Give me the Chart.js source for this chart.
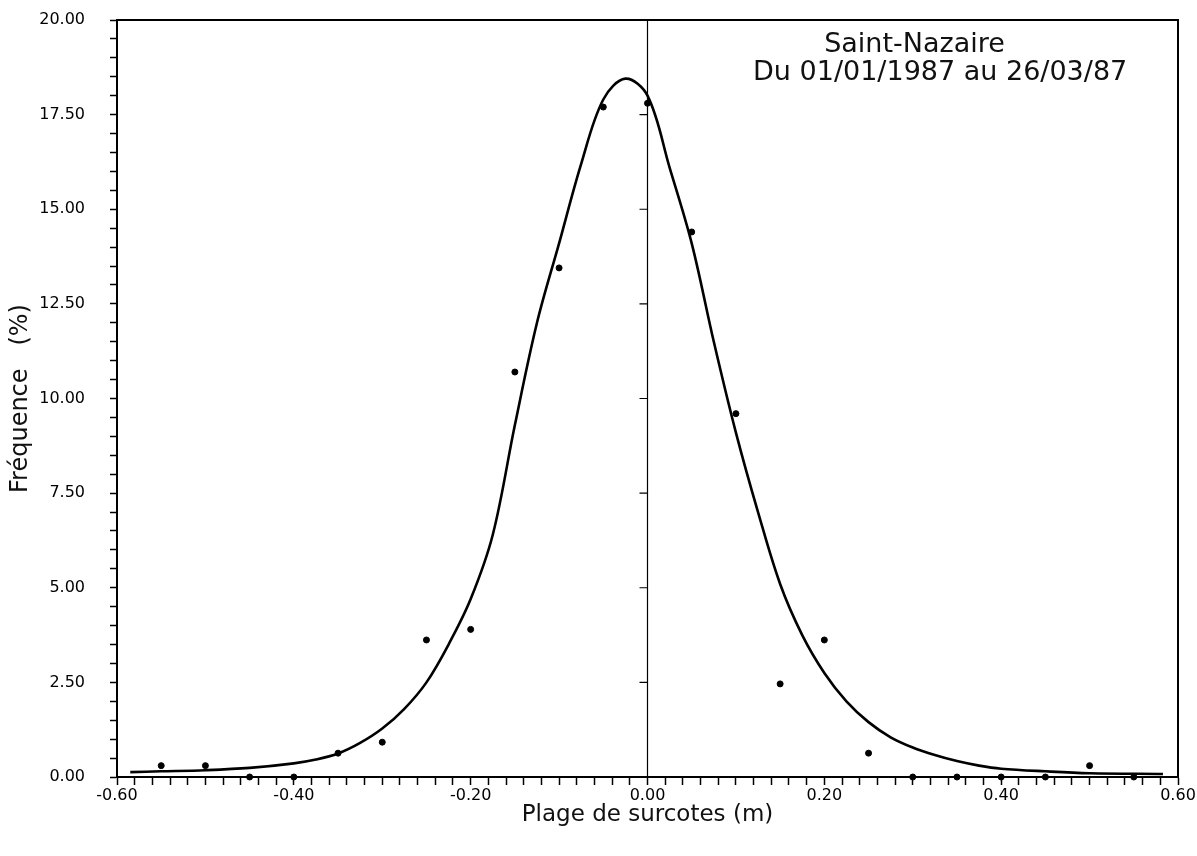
<!DOCTYPE html>
<html>
<head>
<meta charset="utf-8">
<script src="https://cdn.jsdelivr.net/npm/chart.js@4.4.1/dist/chart.umd.min.js"></script>
<style>
  html, body { margin: 0; padding: 0; background: #fff; }
  #wrap { width: 1197px; height: 856px; }
</style>
</head>
<body>
<div id="wrap"><canvas id="chart" width="1197" height="856"></canvas></div>
<script>
// Fitted curve
const curveX = [-0.585, -0.55, -0.50, -0.45, -0.40, -0.375, -0.35, -0.325, -0.30, -0.275, -0.25, -0.225, -0.20, -0.175, -0.15, -0.125, -0.10, -0.075, -0.05, -0.025, 0.0, 0.025, 0.05, 0.075, 0.10, 0.125, 0.15, 0.175, 0.20, 0.225, 0.25, 0.275, 0.30, 0.325, 0.35, 0.375, 0.40, 0.45, 0.50, 0.583];
const curveY = [0.13, 0.15, 0.18, 0.24, 0.36, 0.46, 0.62, 0.9, 1.28, 1.8, 2.5, 3.5, 4.7, 6.4, 9.3, 12.0, 14.1, 16.2, 17.9, 18.45, 18.0, 16.1, 14.1, 11.5, 9.1, 7.0, 5.1, 3.75, 2.75, 2.0, 1.45, 1.05, 0.78, 0.58, 0.42, 0.3, 0.22, 0.15, 0.1, 0.08];

// Observed frequencies
const obsX = [-0.55, -0.50, -0.45, -0.40, -0.35, -0.30, -0.25, -0.20, -0.15, -0.10, -0.05, 0.00, 0.05, 0.10, 0.15, 0.20, 0.25, 0.30, 0.35, 0.40, 0.45, 0.50, 0.55];
const obsY = [0.3, 0.3, 0.0, 0.0, 0.63, 0.92, 3.62, 3.9, 10.7, 13.45, 17.7, 17.8, 14.4, 9.6, 2.46, 3.62, 0.63, 0.0, 0.0, 0.0, 0.0, 0.3, 0.0];

const titleLines = ['Saint-Nazaire', 'Du 01/01/1987 au 26/03/87'];
const titlePos = [[0.302, 19.34], [0.331, 18.6]];

const FONT = "'DejaVu Sans', sans-serif";

const framePlugin = {
    id: 'frame',
    afterDatasetsDraw(chart) {
        const ctx = chart.ctx;
        const a = chart.chartArea;
        const xs = chart.scales.x, ys = chart.scales.y;
        ctx.save();
        ctx.strokeStyle = '#000';
        // top and right frame
        ctx.lineWidth = 2;
        ctx.beginPath();
        ctx.moveTo(a.left, a.top);
        ctx.lineTo(a.right, a.top);
        ctx.lineTo(a.right, a.bottom);
        ctx.stroke();
        // zero line with its ticks
        const x0 = xs.getPixelForValue(0);
        ctx.lineWidth = 1.2;
        ctx.beginPath();
        ctx.moveTo(x0, a.top);
        ctx.lineTo(x0, a.bottom);
        ys.ticks.forEach(t => {
            const r = t.value / 2.5;
            if (Math.abs(r - Math.round(r)) < 1e-6 && t.value > 0 && t.value < 20) {
                const py = ys.getPixelForValue(t.value);
                ctx.moveTo(x0 - 8, py);
                ctx.lineTo(x0, py);
            }
        });
        ctx.stroke();
        // annotation
        ctx.fillStyle = '#111';
        ctx.font = '27px ' + FONT;
        ctx.textAlign = 'center';
        ctx.textBaseline = 'middle';
        titleLines.forEach((txt, i) => {
            ctx.fillText(txt, xs.getPixelForValue(titlePos[i][0]), ys.getPixelForValue(titlePos[i][1]));
        });
        ctx.restore();
    }
};

function isMajor(v, step) {
    const r = v / step;
    return Math.abs(r - Math.round(r)) < 1e-6;
}

new Chart(document.getElementById('chart'), {
    type: 'scatter',
    data: {
        datasets: [
            {
                label: 'courbe',
                data: curveX.map((x, i) => ({ x: x, y: curveY[i] })),
                showLine: true,
                borderColor: '#000',
                borderWidth: 2.6,
                pointRadius: 0,
                tension: 0.35,
                fill: false
            },
            {
                label: 'observations',
                data: obsX.map((x, i) => ({ x: x, y: obsY[i] })),
                showLine: false,
                pointRadius: 3,
                pointBackgroundColor: '#000',
                pointBorderColor: '#000',
                clip: false
            }
        ]
    },
    options: {
        responsive: false,
        animation: false,
        layout: { padding: { top: 20, right: 19, left: 0, bottom: 0 } },
        plugins: {
            legend: { display: false },
            tooltip: { enabled: false }
        },
        scales: {
            x: {
                type: 'linear',
                min: -0.6,
                max: 0.6,
                afterFit: s => { s.height = 79; s.paddingLeft = 0; s.paddingRight = 0; },
                border: { color: '#000', width: 2 },
                grid: { drawOnChartArea: false, color: '#000', tickLength: 8, tickWidth: 1.5 },
                ticks: {
                    stepSize: 0.02,
                    autoSkip: false,
                    maxRotation: 0,
                    padding: 1,
                    color: '#000',
                    font: { family: FONT, size: 16 },
                    callback: v => {
                        if (Math.abs(v) < 1e-9) v = 0;
                        return isMajor(v, 0.2) ? v.toFixed(2) : '';
                    }
                },
                title: {
                    display: true,
                    text: 'Plage de surcotes (m)',
                    color: '#111',
                    font: { family: FONT, size: 23 },
                    padding: { top: 0, bottom: 27 }
                }
            },
            y: {
                type: 'linear',
                min: 0,
                max: 20,
                afterFit: s => { s.width = 117; s.paddingTop = 0; s.paddingBottom = 0; },
                border: { color: '#000', width: 2 },
                grid: { drawOnChartArea: false, color: '#000', tickLength: 7, tickWidth: 1.5 },
                ticks: {
                    stepSize: 0.5,
                    autoSkip: false,
                    padding: 25,
                    color: '#000',
                    font: { family: FONT, size: 16 },
                    callback: v => isMajor(v, 2.5) ? v.toFixed(2) : ''
                },
                title: {
                    display: true,
                    text: 'Fréquence   (%)',
                    color: '#111',
                    font: { family: FONT, size: 24 },
                    padding: { top: 6, bottom: 0 }
                }
            }
        }
    },
    plugins: [framePlugin]
});
</script>
</body>
</html>
